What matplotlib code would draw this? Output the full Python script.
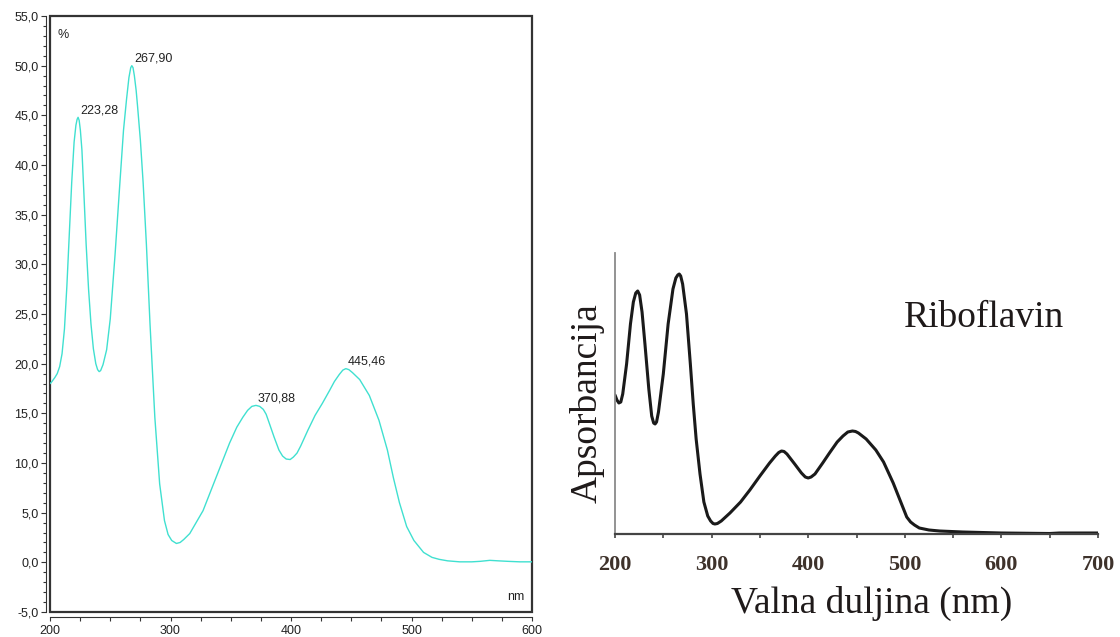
import matplotlib
matplotlib.use('Agg')
import matplotlib.pyplot as plt
from matplotlib.patches import Rectangle
from matplotlib.ticker import MultipleLocator, FuncFormatter

# left spectrum (measured), percent vs wavelength
meas_nm = [200, 201, 204, 206, 208, 210, 212, 214, 216, 218, 220, 221.5, 222.5, 223.3, 224.2, 225.2,
           226.5, 228, 230, 232, 234, 236, 238, 239.5, 240.8, 242, 244, 247, 250, 254, 258, 261,
           263.5, 265.5, 267, 267.9, 268.9, 270, 271.5, 272.6, 275, 277.3, 280, 283, 287,
           291, 295, 298, 301, 304.9, 308, 311, 316, 327, 338, 349, 355, 360, 364, 367.5, 370.9,
           374, 377, 379.4, 382, 386, 390, 393, 396, 399.3, 402, 405, 408, 414, 420, 426, 432,
           436, 440, 443, 445.5, 448, 451, 457, 465, 473, 480, 485, 490, 496, 502, 510, 517, 523,
           530, 540, 550, 557, 565, 572, 580, 590, 600]
meas_val = [18.0, 18.1, 18.6, 19.0, 19.7, 21.0, 23.5, 27.8, 33.0, 38.2, 42.3, 44.0, 44.6, 44.8, 44.5, 43.5,
            41.5, 37.5, 32.0, 27.5, 24.0, 21.5, 20.0, 19.4, 19.2, 19.3, 19.9, 21.4, 24.5, 31.0, 38.2, 43.5,
            46.6, 48.8, 49.8, 50.0, 49.8, 49.0, 47.5, 46.0, 42.5, 38.2, 32.0, 24.0, 14.6,
            7.9, 4.2, 2.8, 2.2, 1.9, 2.0, 2.3, 2.9, 5.2, 8.6, 12.0, 13.6, 14.6, 15.3, 15.7, 15.8,
            15.7, 15.4, 14.9, 14.0, 12.6, 11.3, 10.7, 10.4, 10.35, 10.6, 11.0, 11.7, 13.3, 14.8, 16.0, 17.3,
            18.2, 18.9, 19.35, 19.5, 19.4, 19.1, 18.4, 16.8, 14.3, 11.3, 8.5, 6.0, 3.6, 2.2, 1.0, 0.5, 0.3,
            0.15, 0.05, 0.05, 0.1, 0.2, 0.15, 0.1, 0.05, 0.05]
peak_nm = [223.28, 267.90, 370.88, 445.46]
peak_val = [44.8, 50.0, 15.8, 19.5]
peak_txt = ['223,28', '267,90', '370,88', '445,46']

# right spectrum (literature), relative absorbance
ref_nm = [200, 202, 204, 206, 208, 212, 216, 219, 221.5, 223.5, 225.5, 228, 231, 235, 238, 240,
          241.5, 243, 245, 250, 255, 260, 263, 265, 266.5, 268, 270, 274, 278, 281, 284, 288,
          292, 296, 299, 301.5, 303.4, 306, 310, 319, 330, 339.6, 350, 360, 366, 369.5, 372.4,
          375, 378, 382, 386, 393, 397, 400, 403, 407, 415, 422, 430, 436, 441, 445.8, 449, 452,
          456, 460, 470, 478, 488, 495, 502, 506, 510, 515, 520, 525, 536, 560, 600, 650, 660, 700]
ref_val = [139, 134, 131, 132, 140, 170, 210, 232, 241, 243, 239, 222, 190, 145, 118, 111,
           110, 112, 122, 160, 210, 245, 256, 259, 260, 258, 250, 220, 170, 130, 95, 60,
           32, 18, 13, 10.5, 10, 10.5, 13, 21, 32, 44, 58, 71, 78, 81.5, 83,
           82.5, 80, 75, 70, 61, 57, 56, 57, 60, 71, 81, 92, 98, 102, 103, 102.5, 101,
           98, 95, 84, 72, 51, 34, 17, 12, 9, 6, 5, 4, 3, 2, 1, 0.5, 1, 1]

W, H = 1120, 637


def px(x, y):
    return x / W, 1 - y / H


def main():
    fig = plt.figure(figsize=(11.2, 6.37), dpi=100)

    # ---- left chart ----
    ax = fig.add_axes([50 / W, (H - 612) / H, 482 / W, 596 / H])
    ax.plot(meas_nm, meas_val, color='#40E0D0', lw=1.0)
    ax.set_xlim(200, 600)
    ax.set_ylim(-5, 55)
    for s in ['top', 'right']:
        ax.spines[s].set_visible(False)
    ax.spines['left'].set_position(('outward', 3))
    ax.spines['bottom'].set_position(('outward', 3.6))
    ax.spines['left'].set_color('#333333')
    ax.spines['bottom'].set_color('#333333')
    ax.add_patch(Rectangle((0, 0), 1, 1, transform=ax.transAxes, fill=False,
                           ec='#333333', lw=1.6, clip_on=False))
    ax.yaxis.set_major_locator(MultipleLocator(5))
    ax.yaxis.set_minor_locator(MultipleLocator(1))
    ax.xaxis.set_major_locator(MultipleLocator(100))
    ax.xaxis.set_minor_locator(MultipleLocator(25))
    ax.yaxis.set_major_formatter(FuncFormatter(lambda v, p: '{:.1f}'.format(v).replace('.', ',')))
    ax.tick_params(which='major', length=3.6, width=0.8, color='#333333',
                   labelsize=9, labelcolor='#222222', pad=1.5)
    ax.tick_params(which='minor', length=2, width=0.8, color='#333333')
    ax.tick_params(axis='x', which='both', length=3)
    ax.tick_params(axis='x', which='major', pad=3)
    for lab in ax.get_xticklabels() + ax.get_yticklabels():
        lab.set_fontfamily('Liberation Sans')

    for x, y, t in zip(peak_nm, peak_val, peak_txt):
        ax.annotate(t, (x, y), xytext=(1.5, 3), textcoords='offset points',
                    ha='left', va='baseline', fontsize=9, family='Liberation Sans',
                    color='#222222')
    ax.text(0.016, 0.978, '%', transform=ax.transAxes, ha='left', va='top',
            fontsize=9, family='Liberation Sans', color='#222222')
    ax.text(0.985, 0.015, 'nm', transform=ax.transAxes, ha='right', va='bottom',
            fontsize=9, family='Liberation Sans', color='#222222')

    # ---- right chart ----
    ax2 = fig.add_axes([615 / W, (H - 534) / H, 483 / W, 281 / H])
    ax2.plot(ref_nm, ref_val, color='#1a1a1a', lw=2.2, solid_capstyle='round',
             solid_joinstyle='round')
    ax2.set_xlim(200, 700)
    ax2.set_ylim(0, 281)
    for s in ['top', 'right']:
        ax2.spines[s].set_visible(False)
    ax2.spines['left'].set_color('#8a8a8a')
    ax2.spines['left'].set_linewidth(1.3)
    ax2.spines['bottom'].set_color('#444444')
    ax2.spines['bottom'].set_linewidth(1.6)
    ax2.set_yticks([])
    ax2.xaxis.set_major_locator(MultipleLocator(100))
    ax2.xaxis.set_minor_locator(MultipleLocator(50))
    ax2.tick_params(axis='x', which='both', length=3, width=1.2, color='#444444')
    ax2.tick_params(axis='x', which='major', labelsize=16, labelcolor='#3e322b', pad=12)
    for lab in ax2.get_xticklabels():
        lab.set_fontfamily('Liberation Serif')
        lab.set_fontweight('bold')

    serif = dict(family='Liberation Serif', color='#1f1a1a', fontsize=27)
    x, y = px(872, 613)
    fig.text(x, y, 'Valna duljina (nm)', ha='center', va='baseline', **serif)
    x, y = px(597, 403)
    fig.text(x, y, 'Apsorbancija', ha='center', va='baseline', rotation=90,
             rotation_mode='anchor', **serif)
    x, y = px(904, 327)
    fig.text(x, y, 'Riboflavin', ha='left', va='baseline', **serif)

    fig.savefig('out.png', dpi=100)


if __name__ == '__main__':
    main()
